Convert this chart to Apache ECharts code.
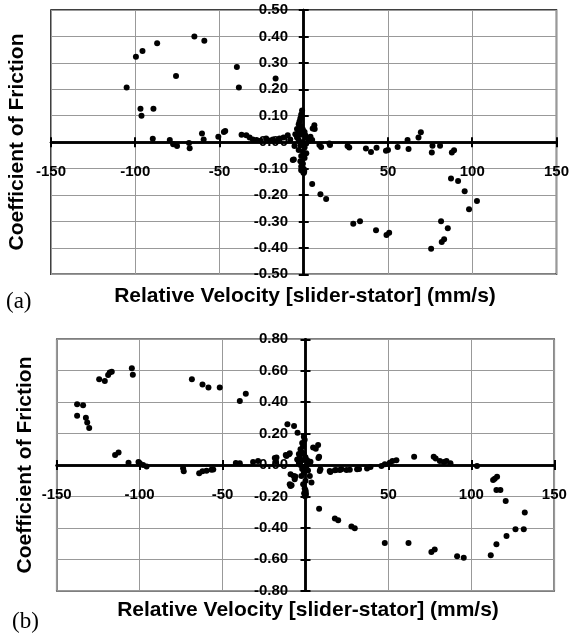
<!DOCTYPE html>
<html>
<head>
<meta charset="utf-8">
<script src="https://cdn.jsdelivr.net/npm/echarts@6/dist/echarts.min.js"></script>
<style>
html,body{margin:0;padding:0;background:#fff;}
#c{width:572px;height:640px;}
</style>
</head>
<body>
<div id="c"></div>
<script>
// ---- Data (a) ----
var velA = [-105.1,-99.6,-95.7,-87.0,-64.9,-59.0,-75.8,-39.7,-38.5,-16.7,-96.9,-96.3,-89.2,
  -89.6,-79.5,-77.5,-75.2,-68.1,-67.7,-60.4,-59.4,-50.7,-47.4,-46.6,-36.9,-34.1,-32.1,-30.2,-28,-25.5,-22.3,-20,-18.3,-16,-14.4,-12,-9.5,-8,-5.5,-5.9,-6.5,
  -1.0,-1.5,-2.0,-2.5,-3.0,-1.5,-4.0,-0.5,-3.0,0.5,-5.0,-2.0,1.0,-4.0,2.0,-3.0,3.0,-1.0,1.5,-2.0,0.5,-3.0,-0.5,1.5,-1.5,0.5,-2.0,-0.5,-1.5,-1.5,-0.6,0.0,4.0,5.0,
  5.3,6.3,6.5,10.3,9.3,15.6,15.2,26.0,27.0,36.9,39.9,43.2,48.8,50.0,55.7,61.6,62.2,68.1,69.5,76.4,76.0,80.9,87.9,89.2,
  5.0,9.9,13.3,29.4,33.4,42.9,49.1,50.7,75.6,81.5,81.9,83.3,85.5,87.4,91.6,95.5,98.1,102.8];
var cofA = [0.207,0.323,0.345,0.374,0.400,0.384,0.250,0.284,0.207,0.241,0.126,0.100,0.126,
  0.013,0.008,-0.008,-0.015,-0.003,-0.023,0.033,0.010,0.020,0.038,0.042,0.028,0.026,0.018,0.010,0.008,0.005,0.014,0.006,0.010,0.004,0.014,0.018,0.026,0.010,-0.015,-0.066,-0.068,
  0.120,0.105,0.090,0.078,0.068,0.060,0.050,0.048,0.040,0.038,0.030,0.028,0.025,0.018,0.015,0.008,0.005,0.000,-0.005,-0.012,-0.020,-0.030,-0.035,-0.042,-0.052,-0.060,-0.072,-0.082,-0.092,-0.106,-0.100,-0.115,0.020,0.008,
  0.052,0.064,0.050,-0.018,-0.011,-0.011,-0.005,-0.015,-0.020,-0.024,-0.037,-0.021,-0.033,-0.030,-0.018,0.008,-0.026,0.018,0.037,-0.014,-0.039,-0.014,-0.039,-0.031,
  -0.158,-0.197,-0.215,-0.309,-0.299,-0.333,-0.351,-0.343,-0.403,-0.299,-0.378,-0.367,-0.326,-0.138,-0.147,-0.186,-0.254,-0.223];

// ---- Data (b) ----
var velB = [-137.7,-134.1,-137.7,-132.4,-131.6,-130.4,-124.4,-121.0,-119.0,-118.0,-116.8,-104.7,-104.1,-68.5,-62.1,-58.5,-51.7,-39.6,-36.0,-10.9,-6.9,-4.8,
  -114.8,-112.7,-106.7,-100.7,-99.9,-97.9,-95.8,-73.8,-73.4,-64.1,-62.1,-59.7,-56.7,-55.6,-42.0,-39.6,-31.6,-28.6,-18.5,-17.9,-17.5,-11.9,-9.9,-9.5,-11.5,-9.0,-7.1,-6.1,-6.5,-9.0,-8.4,-9.5,
  -1.0,-0.5,-2.0,-1.5,-3.0,-2.5,-4.0,-1.0,-3.5,0.0,-5.0,-2.0,1.0,-4.0,2.0,-3.0,0.5,-2.0,1.5,-1.0,2.6,-2.5,3.6,-1.4,0.0,-0.5,0.0,-0.8,-0.4,3.0,
  4.6,7.6,6.2,8.2,7.8,9.0,8.6,14.6,15.0,17.7,18.3,20.7,21.7,24.7,26.7,31.1,32.3,37.1,39.2,45.8,47.8,50.8,52.4,54.8,65.5,77.3,78.5,81.0,83.4,85.0,87.4,103.4,
  113.1,114.1,115.5,115.1,117.5,120.7,132.2,8.2,17.7,19.7,27.7,29.7,47.8,62.1,75.9,77.9,91.4,95.4,111.7,115.1,121.2,126.6,131.6];
var cofB = [0.386,0.380,0.314,0.300,0.270,0.236,0.545,0.535,0.573,0.588,0.594,0.616,0.575,0.545,0.512,0.493,0.493,0.407,0.454,0.259,0.248,0.206,
  0.064,0.079,0.015,0.019,0.011,0.000,-0.010,-0.021,-0.040,-0.053,-0.040,-0.036,-0.030,-0.028,0.013,0.011,0.019,0.026,0.045,0.024,0.047,0.064,0.068,0.074,0.057,-0.059,-0.070,-0.073,-0.090,-0.134,-0.129,-0.123,
  0.180,0.160,0.140,0.120,0.100,0.085,0.070,0.070,0.050,0.050,0.035,0.030,0.030,0.015,0.010,0.000,-0.010,-0.025,-0.035,-0.050,-0.070,-0.070,-0.112,-0.123,-0.100,-0.150,-0.160,-0.180,-0.197,0.020,
  0.111,0.127,0.104,0.053,0.045,-0.027,-0.038,-0.038,-0.045,-0.034,-0.032,-0.032,-0.027,-0.032,-0.030,-0.027,-0.025,-0.023,-0.013,-0.006,0.004,0.015,0.026,0.030,0.053,0.053,0.041,0.026,0.019,0.026,0.011,-0.006,
  -0.095,-0.087,-0.074,-0.159,-0.159,-0.229,-0.303,-0.279,-0.341,-0.352,-0.392,-0.403,-0.496,-0.496,-0.554,-0.537,-0.581,-0.590,-0.575,-0.505,-0.452,-0.409,-0.409];

var xTicks = {min: -150, max: 150, interval: 50};
var yTicksA = {min: -0.5, max: 0.5, interval: 0.1};
var yTicksB = {min: -0.8, max: 0.8, interval: 0.2};
var yTitle = 'Coefficient of Friction';
var xTitle = 'Relative Velocity [slider-stator] (mm/s)';

function zip(a, b) { return a.map(function (v, i) { return [v, b[i]]; }); }

var labelFont = {fontFamily: '"Liberation Sans", Arial, sans-serif', fontWeight: 'bold', fontSize: 15, color: '#000'};

// Labels in ECharts v6 stay at the grid edge, so negative margins bring them next to the zero lines.
function xAx(gi, other, main, margin) {
  return {type: 'value', gridIndex: gi, min: xTicks.min, max: xTicks.max, interval: xTicks.interval,
    position: main ? 'bottom' : 'top',
    axisLine: {onZero: true, onZeroAxisIndex: other, lineStyle: {color: '#000', width: 2.5}},
    axisTick: {show: true, length: 5, lineStyle: {color: '#000', width: 2}},
    axisLabel: main ? Object.assign({margin: margin, formatter: function (v) { return String(Math.round(v)); }}, labelFont) : {show: false},
    splitLine: {show: !!main, lineStyle: {color: '#999', width: 1}}};
}
function yAx(gi, other, t, main, margin) {
  return {type: 'value', gridIndex: gi, min: t.min, max: t.max, interval: t.interval,
    position: main ? 'left' : 'right',
    axisLine: {onZero: true, onZeroAxisIndex: other, lineStyle: {color: '#000', width: 2.5}},
    axisTick: {show: true, length: 5, lineStyle: {color: '#000', width: 2}},
    axisLabel: main ? Object.assign({margin: margin, formatter: function (v) { return (Math.abs(v) < 1e-9 ? 0 : v).toFixed(2); }}, labelFont) : {show: false},
    splitLine: {show: !!main, lineStyle: {color: '#999', width: 1}}};
}

var titleFont = 'bold 21px "Liberation Sans", Arial, sans-serif';
var panelFont = '23px "Liberation Serif", "Times New Roman", serif';

var option = {
  animation: false,
  backgroundColor: '#fff',
  grid: [
    {left: 51, top: 10, width: 506.7, height: 264.3, show: true, borderColor: '#000', borderWidth: 1.5, backgroundColor: 'transparent'},
    {left: 56.7, top: 339.3, width: 497.6, height: 251.4, show: true, borderColor: '#000', borderWidth: 1.5, backgroundColor: 'transparent'}
  ],
  xAxis: [xAx(0, 0, true, -110), xAx(0, 1, false), xAx(1, 2, true, -103), xAx(1, 3, false)],
  yAxis: [yAx(0, 0, yTicksA, true, -237), yAx(0, 1, yTicksA, false), yAx(1, 2, yTicksB, true, -231.5), yAx(1, 3, yTicksB, false)],
  series: [
    {type: 'scatter', xAxisIndex: 0, yAxisIndex: 0, data: zip(velA, cofA), symbol: 'circle', symbolSize: 6,
      itemStyle: {color: '#000', opacity: 1}, z: 5},
    {type: 'scatter', xAxisIndex: 2, yAxisIndex: 2, data: zip(velB, cofB), symbol: 'circle', symbolSize: 6,
      itemStyle: {color: '#000', opacity: 1}, z: 5}
  ],
  graphic: [
    {type: 'text', x: 17.5, y: 142, rotation: Math.PI / 2, style: {text: yTitle, font: titleFont, fill: '#000', align: 'center', verticalAlign: 'middle'}},
    {type: 'text', x: 305, y: 296, style: {text: xTitle, font: titleFont, fill: '#000', align: 'center', verticalAlign: 'middle'}},
    {type: 'text', x: 6, y: 302, style: {text: '(a)', font: panelFont, fill: '#000', align: 'left', verticalAlign: 'middle'}},
    {type: 'text', x: 25.5, y: 465, rotation: Math.PI / 2, style: {text: yTitle, font: titleFont, fill: '#000', align: 'center', verticalAlign: 'middle'}},
    {type: 'text', x: 308, y: 610, style: {text: xTitle, font: titleFont, fill: '#000', align: 'center', verticalAlign: 'middle'}},
    {type: 'text', x: 12, y: 622, style: {text: '(b)', font: panelFont, fill: '#000', align: 'left', verticalAlign: 'middle'}}
  ]
};

var chart = echarts.init(document.getElementById('c'), null, {renderer: 'canvas'});
chart.setOption(option);
</script>
</body>
</html>
